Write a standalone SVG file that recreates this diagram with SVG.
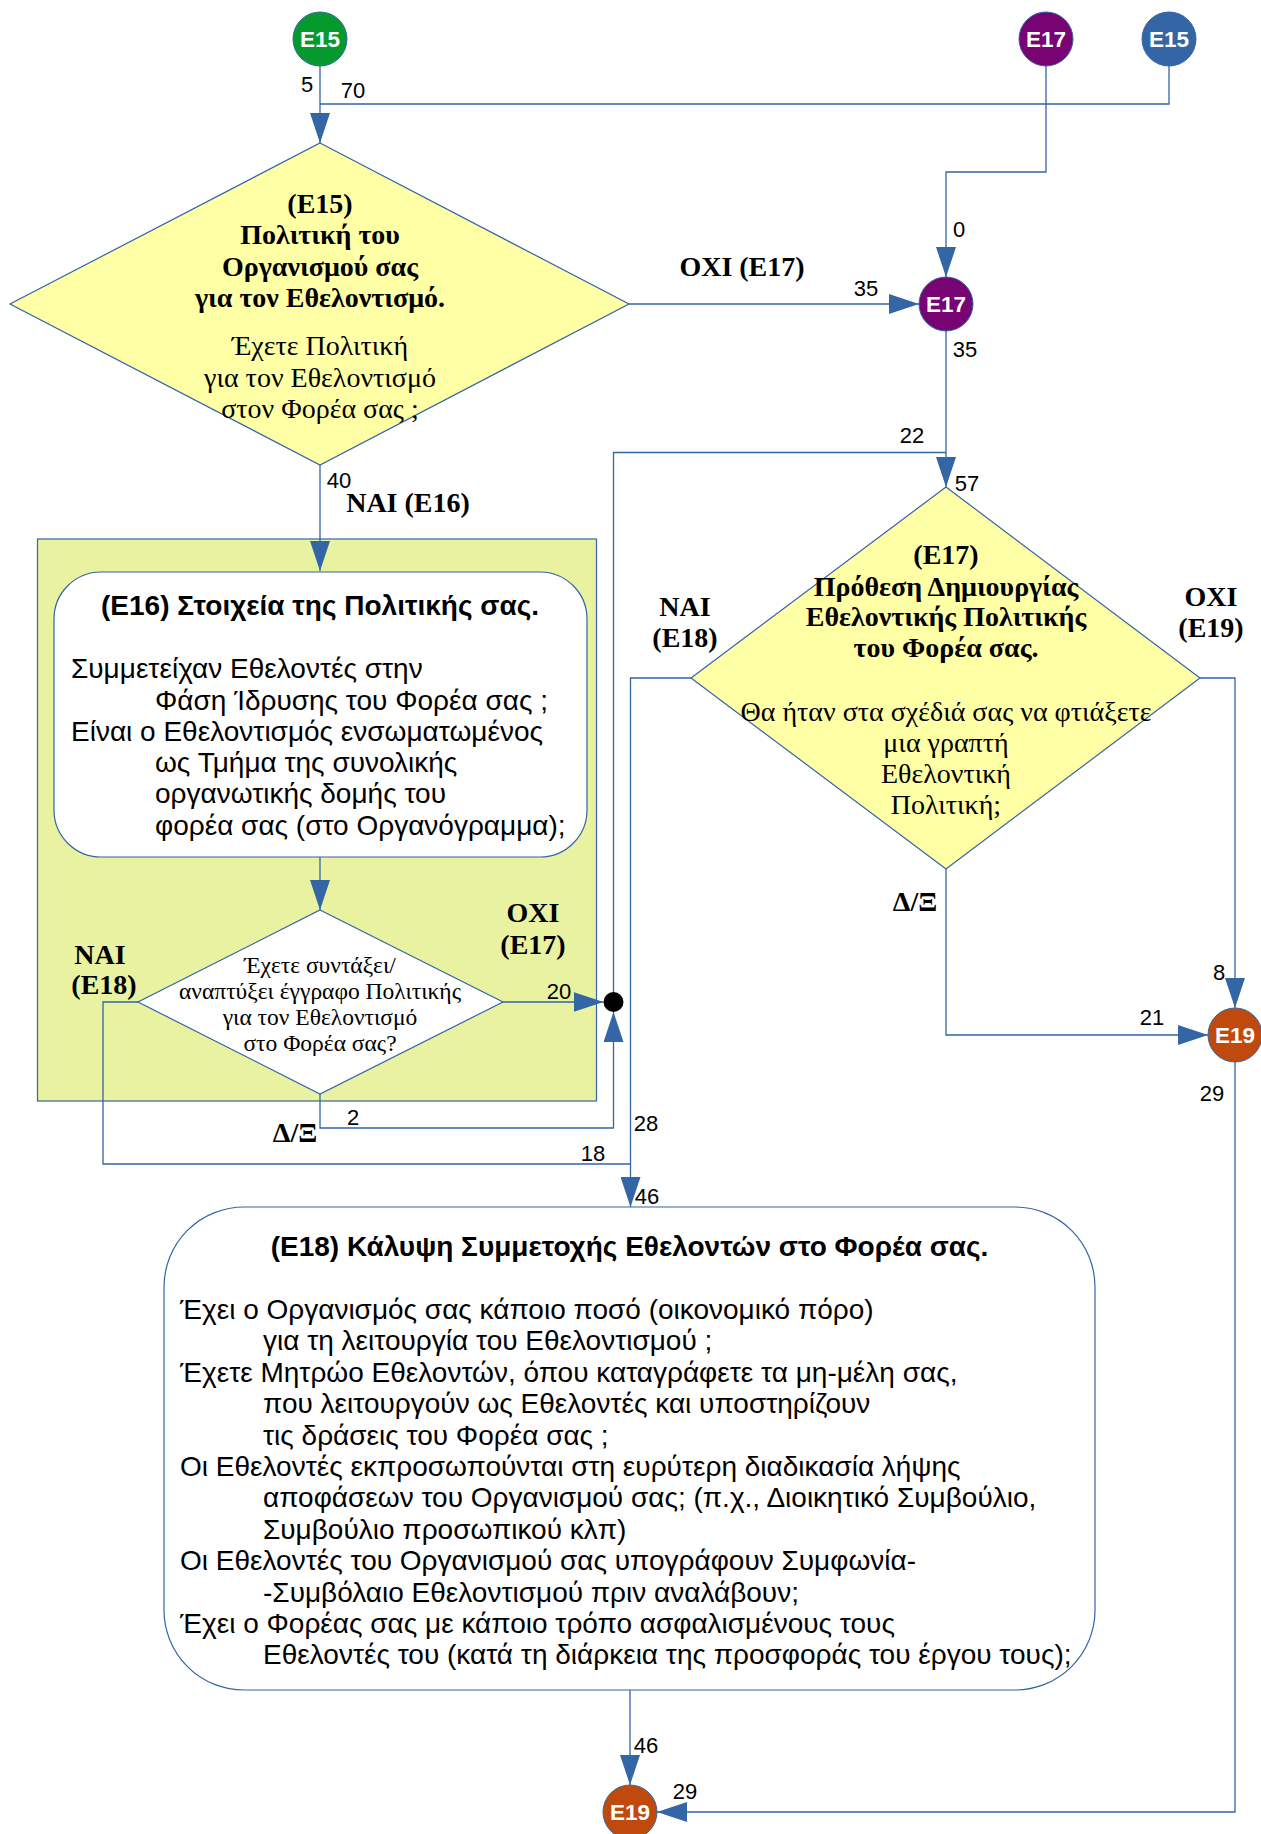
<svg xmlns="http://www.w3.org/2000/svg" width="1261" height="1834" viewBox="0 0 1261 1834">
<style>
.ln{fill:none;stroke:#3465a4;stroke-width:1.3}
.dia{fill:#ffffa6;stroke:#3465a4;stroke-width:1.2}
.num{font-family:"Liberation Sans",Arial,sans-serif;font-size:22px;fill:#000;text-anchor:middle}
.lbl{font-family:"Liberation Serif","Times New Roman",serif;font-size:28px;font-weight:bold;fill:#000;text-anchor:middle}
.db{font-family:"Liberation Serif","Times New Roman",serif;font-size:28px;font-weight:bold;fill:#000;text-anchor:middle}
.dr{font-family:"Liberation Serif","Times New Roman",serif;font-size:28px;fill:#000;text-anchor:middle}
.ds{font-family:"Liberation Serif","Times New Roman",serif;font-size:23.5px;fill:#000;text-anchor:middle}
.st{font-family:"Liberation Sans",Arial,sans-serif;font-size:28px;font-weight:bold;fill:#000}
.sb{font-family:"Liberation Sans",Arial,sans-serif;font-size:28px;fill:#000}
.ct{font-family:"Liberation Sans",Arial,sans-serif;font-size:22.5px;font-weight:bold;fill:#fff;text-anchor:middle}
.cir{stroke:#3465a4;stroke-width:1}
</style>
<defs>
<marker id="ah" markerUnits="userSpaceOnUse" markerWidth="30" markerHeight="20" refX="30" refY="10" orient="auto">
<path d="M0,0 L30,10 L0,20 z" fill="#3465a4"/>
</marker>
</defs>

<g id="container">
<rect x="37.5" y="539" width="559" height="562" fill="#e8f2a1" stroke="#3465a4" stroke-width="1.2"/>
</g>

<g id="connectors">
<path class="ln" d="M1169,66 V104 H320"/>
<path class="ln" d="M320,66 V143" marker-end="url(#ah)"/>
<path class="ln" d="M1046,66 V172 H946 V277" marker-end="url(#ah)"/>
<path class="ln" d="M629,304 H919" marker-end="url(#ah)"/>
<path class="ln" d="M946,331 V487" marker-end="url(#ah)"/>
<path class="ln" d="M613.5,1002 V452.5 H946"/>
<path class="ln" d="M320,465 V571" marker-end="url(#ah)"/>
<path class="ln" d="M320,857 V910" marker-end="url(#ah)"/>
<path class="ln" d="M503,1002 H603.5" marker-end="url(#ah)"/>
<path class="ln" d="M320,1094 V1128 H613.5 V1012" marker-end="url(#ah)"/>
<path class="ln" d="M138,1002 H103 V1164 H630.5"/>
<path class="ln" d="M691,678 H630.5 V1207" marker-end="url(#ah)"/>
<path class="ln" d="M1200,678 H1235 V1008" marker-end="url(#ah)"/>
<path class="ln" d="M946,869 V1035 H1208" marker-end="url(#ah)"/>
<path class="ln" d="M1235,1062 V1812 H657" marker-end="url(#ah)"/>
<path class="ln" d="M630,1690 V1785" marker-end="url(#ah)"/>
<circle cx="613.5" cy="1002" r="10" fill="#000"/>
<text class="num" x="307" y="92">5</text>
<text class="num" x="353" y="98">70</text>
<text class="num" x="959" y="237">0</text>
<text class="num" x="866" y="296">35</text>
<text class="num" x="965" y="357">35</text>
<text class="num" x="912" y="443">22</text>
<text class="num" x="967" y="491">57</text>
<text class="num" x="339" y="488">40</text>
<text class="num" x="559" y="999">20</text>
<text class="num" x="353" y="1125">2</text>
<text class="num" x="593" y="1161">18</text>
<text class="num" x="646" y="1131">28</text>
<text class="num" x="647" y="1204">46</text>
<text class="num" x="1219" y="980">8</text>
<text class="num" x="1152" y="1025">21</text>
<text class="num" x="1212" y="1101">29</text>
<text class="num" x="646" y="1753">46</text>
<text class="num" x="685" y="1799">29</text>
<text class="lbl" x="742" y="276">ΟΧΙ (Ε17)</text>
<text class="lbl" x="408" y="512">ΝΑΙ (Ε16)</text>
<text class="lbl" x="533" y="922">ΟΧΙ</text>
<text class="lbl" x="533" y="954">(Ε17)</text>
<text class="lbl" x="100" y="964">ΝΑΙ</text>
<text class="lbl" x="104" y="994">(Ε18)</text>
<text class="lbl" x="295" y="1142">Δ/Ξ</text>
<text class="lbl" x="685" y="616">ΝΑΙ</text>
<text class="lbl" x="685" y="647">(Ε18)</text>
<text class="lbl" x="1211" y="606">ΟΧΙ</text>
<text class="lbl" x="1211" y="637">(Ε19)</text>
<text class="lbl" x="915" y="911">Δ/Ξ</text>
</g>

<g id="n-e15-green">
<circle class="cir" cx="320" cy="39" r="27" fill="#069a2e"/>
<text class="ct" x="320" y="47">E15</text>
</g>
<g id="n-e17-top">
<circle class="cir" cx="1046" cy="39" r="27" fill="#780373"/>
<text class="ct" x="1046" y="47">E17</text>
</g>
<g id="n-e15-blue">
<circle class="cir" cx="1169" cy="39" r="27" fill="#3465a4"/>
<text class="ct" x="1169" y="47">E15</text>
</g>
<g id="n-e17-mid">
<circle class="cir" cx="946" cy="304" r="27" fill="#780373"/>
<text class="ct" x="946" y="312">E17</text>
</g>
<g id="n-e19-right">
<circle class="cir" cx="1235" cy="1035" r="27" fill="#c0490e"/>
<text class="ct" x="1235" y="1043">E19</text>
</g>
<g id="n-e19-bottom">
<circle class="cir" cx="630" cy="1812" r="27" fill="#c0490e"/>
<text class="ct" x="630" y="1820">E19</text>
</g>

<g id="n-e15-decision">
<polygon class="dia" points="320,143 629,304 320,465 10,304"/>
<text class="db" x="320" y="213">(Ε15)</text>
<text class="db" x="320" y="244">Πολιτική του</text>
<text class="db" x="320" y="276">Οργανισμού σας</text>
<text class="db" x="320" y="307">για τον Εθελοντισμό.</text>
<text class="dr" x="320" y="355">Έχετε Πολιτική</text>
<text class="dr" x="320" y="387">για τον Εθελοντισμό</text>
<text class="dr" x="320" y="418">στον Φορέα σας ;</text>
</g>

<g id="n-e16">
<rect x="54" y="572" width="533" height="285" rx="47" ry="47" fill="#fff" stroke="#3465a4" stroke-width="1.2"/>
<text class="st" x="320" y="615" text-anchor="middle">(Ε16) Στοιχεία της Πολιτικής σας.</text>
<text class="sb" x="71" y="678">Συμμετείχαν Εθελοντές στην</text>
<text class="sb" x="155" y="710">Φάση Ίδρυσης του Φορέα σας ;</text>
<text class="sb" x="71" y="741">Είναι ο Εθελοντισμός ενσωματωμένος</text>
<text class="sb" x="155" y="772">ως Τμήμα της συνολικής</text>
<text class="sb" x="155" y="803">οργανωτικής δομής του</text>
<text class="sb" x="155" y="835">φορέα σας (στο Οργανόγραμμα);</text>
</g>

<g id="n-e16-decision">
<polygon points="320,910 503,1002 320,1094 138,1002" fill="#fff" stroke="#3465a4" stroke-width="1.2"/>
<text class="ds" x="320" y="973">Έχετε συντάξει/</text>
<text class="ds" x="320" y="999">αναπτύξει έγγραφο Πολιτικής</text>
<text class="ds" x="320" y="1025">για τον Εθελοντισμό</text>
<text class="ds" x="320" y="1051">στο Φορέα σας?</text>
</g>

<g id="n-e17-decision">
<polygon class="dia" points="946,487 1200,678 946,869 691,678"/>
<text class="db" x="946" y="564">(Ε17)</text>
<text class="db" x="946" y="596">Πρόθεση Δημιουργίας</text>
<text class="db" x="946" y="626">Εθελοντικής Πολιτικής</text>
<text class="db" x="946" y="657">του Φορέα σας.</text>
<text class="dr" x="946" y="721">Θα ήταν στα σχέδιά σας να φτιάξετε</text>
<text class="dr" x="946" y="752">μια γραπτή</text>
<text class="dr" x="946" y="783">Εθελοντική</text>
<text class="dr" x="946" y="814">Πολιτική;</text>
</g>

<g id="n-e18">
<rect x="164" y="1207" width="931" height="483" rx="80" ry="80" fill="#fff" stroke="#3465a4" stroke-width="1.2"/>
<text class="st" x="629.5" y="1256" text-anchor="middle">(Ε18) Κάλυψη Συμμετοχής Εθελοντών στο Φορέα σας.</text>
<text class="sb" x="180" y="1319">Έχει ο Οργανισμός σας κάποιο ποσό (οικονομικό πόρο)</text>
<text class="sb" x="263" y="1350.4">για τη λειτουργία του Εθελοντισμού ;</text>
<text class="sb" x="180" y="1381.8">Έχετε Μητρώο Εθελοντών, όπου καταγράφετε τα μη-μέλη σας,</text>
<text class="sb" x="263" y="1413.2">που λειτουργούν ως Εθελοντές και υποστηρίζουν</text>
<text class="sb" x="263" y="1444.6">τις δράσεις του Φορέα σας ;</text>
<text class="sb" x="180" y="1476">Οι Εθελοντές εκπροσωπούνται στη ευρύτερη διαδικασία λήψης</text>
<text class="sb" x="263" y="1507.4">αποφάσεων του Οργανισμού σας; (π.χ., Διοικητικό Συμβούλιο,</text>
<text class="sb" x="263" y="1538.8">Συμβούλιο προσωπικού κλπ)</text>
<text class="sb" x="180" y="1570.2">Οι Εθελοντές του Οργανισμού σας υπογράφουν Συμφωνία-</text>
<text class="sb" x="263" y="1601.6">-Συμβόλαιο Εθελοντισμού πριν αναλάβουν;</text>
<text class="sb" x="180" y="1633">Έχει ο Φορέας σας με κάποιο τρόπο ασφαλισμένους τους</text>
<text class="sb" x="263" y="1664.4">Εθελοντές του (κατά τη διάρκεια της προσφοράς του έργου τους);</text>
</g>
</svg>
